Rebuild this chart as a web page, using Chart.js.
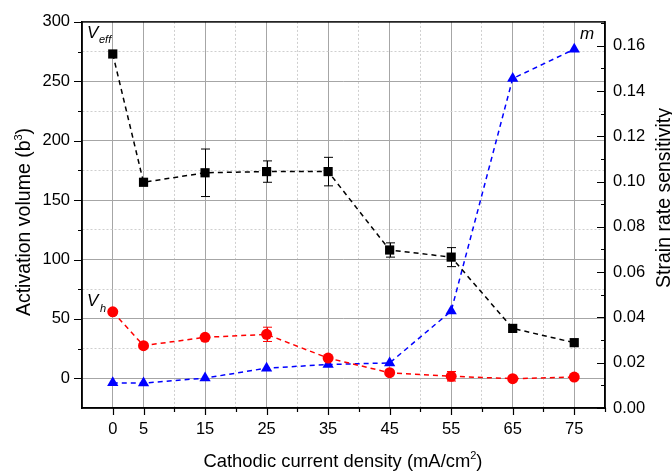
<!DOCTYPE html>
<html>
<head>
<meta charset="utf-8">
<script src="https://cdn.jsdelivr.net/npm/chart.js@4"></script>
<style>
  html, body { margin: 0; padding: 0; background: #fff; }
  #wrap { width: 672px; height: 475px; position: relative; }
</style>
</head>
<body>
<div id="wrap"><canvas id="chart"></canvas></div>
<script>
// data
const currents = [0, 5, 15, 25, 35, 45, 55, 65, 75];
const vEff = [273, 165, 173, 174, 174, 108, 102, 42, 30];
const vEffErr = [0, 0, 20, 9, 12, 6, 8, 0, 0];
const vH = [56, 27.5, 34.5, 37, 17, 4.7, 1.7, -0.3, 1];
const vHErr = [0, 0, 0, 6, 0, 0, 4, 0, 0];
const mSens = [0.0111, 0.0110, 0.0132, 0.0176, 0.0192, 0.0199, 0.0428, 0.1455, 0.1584];

const xLabels = [0, 5, 15, 25, 35, 45, 55, 65, 75];
const leftLabels = [0, 50, 100, 150, 200, 250, 300];

const FONT = '"Liberation Sans", Arial, sans-serif';
const TICK_SIZE = 16.5;

function pts(xs, ys) {
  return xs.map((x, i) => ({ x: x, y: ys[i] }));
}

// draws "main" + superscript + ")" centred on cx
function supText(ctx, main, sup, cx, cy, size) {
  ctx.font = size + 'px ' + FONT;
  const w1 = ctx.measureText(main).width;
  const w3 = ctx.measureText(')').width;
  ctx.font = '11px ' + FONT;
  const w2 = ctx.measureText(sup).width;
  const sx = cx - (w1 + w2 + w3) / 2;
  ctx.textAlign = 'left';
  ctx.font = size + 'px ' + FONT;
  ctx.fillText(main, sx, cy);
  ctx.fillText(')', sx + w1 + w2, cy);
  ctx.font = '11px ' + FONT;
  ctx.fillText(sup, sx + w1, cy - 8);
}

// error bars, ticks, frame and the text labels
const extras = {
  id: 'extras',
  afterDatasetsDraw(chart) {
    const ctx = chart.ctx;
    const x = chart.scales.x, y = chart.scales.y;
    ctx.save();
    const bars = [[vEff, vEffErr, '#000'], [vH, vHErr, '#ff0000']];
    bars.forEach(([vals, errs, col]) => {
      ctx.strokeStyle = col;
      ctx.lineWidth = 1;
      vals.forEach((v, i) => {
        if (!errs[i]) return;
        const px = Math.round(x.getPixelForValue(currents[i])) + 0.5;
        const t = y.getPixelForValue(v + errs[i]);
        const b = y.getPixelForValue(v - errs[i]);
        ctx.beginPath();
        ctx.moveTo(px, t); ctx.lineTo(px, b);
        ctx.moveTo(px - 4.5, t); ctx.lineTo(px + 4.5, t);
        ctx.moveTo(px - 4.5, b); ctx.lineTo(px + 4.5, b);
        ctx.stroke();
      });
    });
    ctx.restore();
  },
  afterDraw(chart) {
    const ctx = chart.ctx;
    const a = chart.chartArea;
    const x = chart.scales.x, y = chart.scales.y, y1 = chart.scales.y1;
    ctx.save();
    ctx.strokeStyle = '#000';
    ctx.lineWidth = 1.5;
    ctx.strokeRect(a.left, a.top, a.right - a.left, a.bottom - a.top);

    ctx.lineWidth = 1.2;
    ctx.beginPath();
    // left ticks (outward)
    for (let v = 0; v <= 300; v += 25) {
      const py = Math.round(y.getPixelForValue(v)) + 0.5;
      const len = v % 50 === 0 ? 8 : 4;
      ctx.moveTo(a.left, py); ctx.lineTo(a.left - len, py);
    }
    // bottom ticks (outward)
    for (let v = 0; v <= 80; v += 5) {
      const px = Math.round(x.getPixelForValue(v)) + 0.5;
      const major = xLabels.includes(v);
      if (!major && v % 10 !== 0) continue;
      ctx.moveTo(px, a.bottom); ctx.lineTo(px, a.bottom + (major ? 7 : 4));
    }
    // right ticks (inward)
    for (let i = 0; i <= 17; i++) {
      const py = Math.round(y1.getPixelForValue(i / 100)) + 0.5;
      const len = i % 2 === 0 ? 8 : 4;
      ctx.moveTo(a.right, py); ctx.lineTo(a.right - len, py);
    }
    ctx.stroke();

    // series annotations
    ctx.fillStyle = '#000';
    ctx.textBaseline = 'alphabetic';
    ctx.textAlign = 'left';
    ctx.font = 'italic 17px ' + FONT;
    ctx.fillText('V', 87, 38);
    ctx.fillText('V', 87, 306);
    ctx.fillText('m', 580, 39);
    ctx.font = 'italic 11px ' + FONT;
    ctx.fillText('eff', 99, 43);
    ctx.fillText('h', 100, 312);

    // axis titles
    supText(ctx, 'Cathodic current density (mA/cm', '2', 343, 467, 18.4);

    ctx.save();
    ctx.translate(30, 222);
    ctx.rotate(-Math.PI / 2);
    supText(ctx, 'Activation volume (b', '3', 0, 0, 19.5);
    ctx.restore();

    ctx.save();
    ctx.translate(670, 198);
    ctx.rotate(-Math.PI / 2);
    ctx.font = '19.5px ' + FONT;
    ctx.textAlign = 'center';
    ctx.fillText('Strain rate sensitivity', 0, 0);
    ctx.restore();

    ctx.restore();
  }
};

const solidGrid = '#a6a6a6';
const dotGrid = '#cfcfcf';

new Chart(document.getElementById('chart'), {
  type: 'line',
  data: {
    datasets: [
      {
        label: 'Veff',
        data: pts(currents, vEff),
        yAxisID: 'y',
        borderColor: '#000',
        backgroundColor: '#000',
        borderWidth: 1.5,
        borderDash: [5, 4],
        pointStyle: 'rect',
        pointRadius: 6.5,
        pointBorderWidth: 0,
        order: 1
      },
      {
        label: 'Vh',
        data: pts(currents, vH),
        yAxisID: 'y',
        borderColor: '#ff0000',
        backgroundColor: '#ff0000',
        borderWidth: 1.5,
        borderDash: [5, 4],
        pointStyle: 'circle',
        pointRadius: 5.5,
        pointBorderWidth: 0,
        order: 2
      },
      {
        label: 'm',
        data: pts(currents, mSens),
        yAxisID: 'y1',
        borderColor: '#0000ff',
        backgroundColor: '#0000ff',
        borderWidth: 1.5,
        borderDash: [5, 4],
        pointStyle: 'triangle',
        pointRadius: 6.5,
        pointBorderWidth: 0,
        order: 3
      }
    ]
  },
  options: {
    responsive: true,
    maintainAspectRatio: false,
    animation: false,
    layout: { padding: { top: 18, left: 0, right: 0, bottom: 0 } },
    plugins: { legend: { display: false }, tooltip: { enabled: false } },
    scales: {
      x: {
        type: 'linear',
        min: -5,
        max: 80,
        afterFit: s => { s.height = 67; },
        afterBuildTicks: s => {
          const t = [];
          for (let v = -5; v <= 80; v += 5) t.push({ value: v });
          s.ticks = t;
        },
        ticks: {
          autoSkip: false,
          maxRotation: 0,
          padding: 12,
          color: '#000',
          font: { family: FONT, size: TICK_SIZE },
          callback: v => xLabels.includes(v) ? String(v) : ''
        },
        grid: {
          drawTicks: false,
          lineWidth: 1,
          color: c => {
            const v = c.tick ? c.tick.value : 0;
            if (v === -5 || v === 80) return 'rgba(0,0,0,0)';
            return (xLabels.includes(v)) ? solidGrid : dotGrid;
          }
        },
        border: {
          color: '#000',
          width: 1.5,
          dash: c => {
            const v = c.tick ? c.tick.value : 0;
            return (c.tick && !xLabels.includes(v)) ? [2, 2] : [];
          }
        }
      },
      y: {
        type: 'linear',
        position: 'left',
        min: -25,
        max: 300,
        afterFit: s => { s.width = 82; },
        afterBuildTicks: s => {
          const t = [];
          for (let v = -25; v <= 300; v += 25) t.push({ value: v });
          s.ticks = t;
        },
        ticks: {
          padding: 12,
          color: '#000',
          font: { family: FONT, size: TICK_SIZE },
          callback: v => leftLabels.includes(v) ? String(v) : ''
        },
        grid: {
          drawTicks: false,
          lineWidth: 1,
          color: c => {
            const v = c.tick ? c.tick.value : 0;
            if (v === -25 || v === 300) return 'rgba(0,0,0,0)';
            return v % 50 === 0 ? solidGrid : dotGrid;
          }
        },
        border: {
          color: '#000',
          width: 1.5,
          dash: c => {
            const v = c.tick ? c.tick.value : 0;
            return (c.tick && v % 50 !== 0) ? [2, 2] : [];
          }
        }
      },
      y1: {
        type: 'linear',
        position: 'right',
        min: 0,
        max: 0.1705,
        afterFit: s => { s.width = 67; },
        afterBuildTicks: s => {
          const t = [];
          for (let i = 0; i <= 16; i += 2) t.push({ value: i / 100 });
          s.ticks = t;
        },
        ticks: {
          padding: 8,
          color: '#000',
          font: { family: FONT, size: TICK_SIZE },
          callback: v => v.toFixed(2)
        },
        grid: { drawOnChartArea: false, drawTicks: false },
        border: { color: '#000', width: 1.5 }
      }
    }
  },
  plugins: [extras]
});
</script>
</body>
</html>
